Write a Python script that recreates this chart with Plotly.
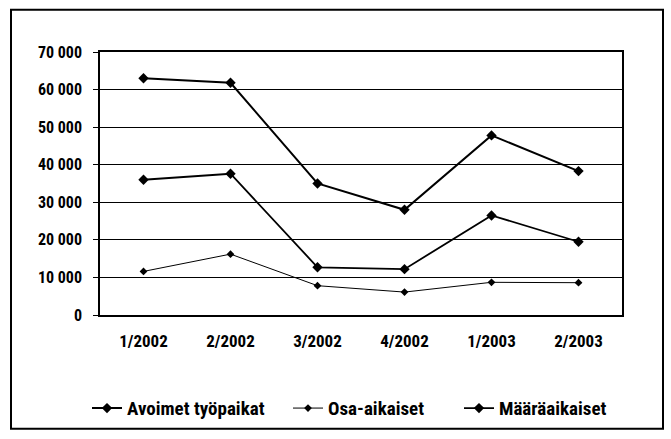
import plotly.graph_objects as go

categories = ["1/2002", "2/2002", "3/2002", "4/2002", "1/2003", "2/2003"]
avoimet = [63000, 61800, 35000, 28000, 47800, 38300]
osa_aikaiset = [11600, 16200, 7800, 6100, 8700, 8600]
maaraaikaiset = [36000, 37600, 12700, 12200, 26500, 19500]
y_ticks = [0, 10000, 20000, 30000, 40000, 50000, 60000, 70000]

FONT = "Liberation Sans Narrow, Arial Narrow, Roboto Condensed, sans-serif"

fig = go.Figure()
fig.add_trace(go.Scatter(x=categories, y=avoimet, name="Avoimet työpaikat",
                         mode="lines+markers", legend="legend",
                         line=dict(color="black", width=2),
                         marker=dict(symbol="diamond", size=8, color="black")))
fig.add_trace(go.Scatter(x=categories, y=osa_aikaiset, name="Osa-aikaiset",
                         mode="lines+markers", legend="legend2",
                         line=dict(color="black", width=1),
                         marker=dict(symbol="diamond", size=6, color="black")))
fig.add_trace(go.Scatter(x=categories, y=maaraaikaiset, name="Määräaikaiset",
                         mode="lines+markers", legend="legend3",
                         line=dict(color="black", width=1.8),
                         marker=dict(symbol="diamond", size=8, color="black")))

W = 522.0
def px(x):
    return (x - 100) / W

legfont = dict(family=FONT, size=19, color="black", weight="bold")
legy = (320 - 415) / 268.0

fig.update_layout(
    width=671, height=439,
    margin=dict(l=100, r=49, t=52, b=119),
    paper_bgcolor="white", plot_bgcolor="white",
    font=dict(family=FONT, size=16, color="black", weight="bold"),
    separators=", ",
    showlegend=True,
    legend=dict(x=px(87), xanchor="left", y=legy, yanchor="middle", font=legfont,
                bgcolor="rgba(0,0,0,0)"),
    legend2=dict(x=px(288), xanchor="left", y=legy, yanchor="middle", font=legfont,
                 bgcolor="rgba(0,0,0,0)"),
    legend3=dict(x=px(459), xanchor="left", y=legy, yanchor="middle", font=legfont,
                 bgcolor="rgba(0,0,0,0)"),
    shapes=[dict(type="rect", xref="paper", yref="paper",
                 x0=px(11), x1=px(663), y0=(320 - 436) / 268.0, y1=(320 - 9) / 268.0,
                 line=dict(color="black", width=2), fillcolor="rgba(0,0,0,0)")],
)
fig.update_xaxes(showgrid=False, showline=True, linecolor="black", linewidth=1.5,
                 mirror=True, ticks="", range=[-0.5, len(categories) - 0.5],
                 tickfont=dict(family=FONT, size=17, weight="bold"),
                 ticklabelstandoff=10)
fig.update_yaxes(range=[0, 70000], tickvals=y_ticks, tickformat=",d",
                 showgrid=True, gridcolor="black", gridwidth=1.3,
                 showline=True, linecolor="black", linewidth=1.5, mirror=True,
                 ticks="outside", ticklen=5, tickcolor="black",
                 ticklabelstandoff=8,
                 tickfont=dict(family=FONT, size=16, weight="bold"), zeroline=False)

fig.write_html("out.html", config={"displayModeBar": False},
               post_script="document.body.style.margin='0';")
